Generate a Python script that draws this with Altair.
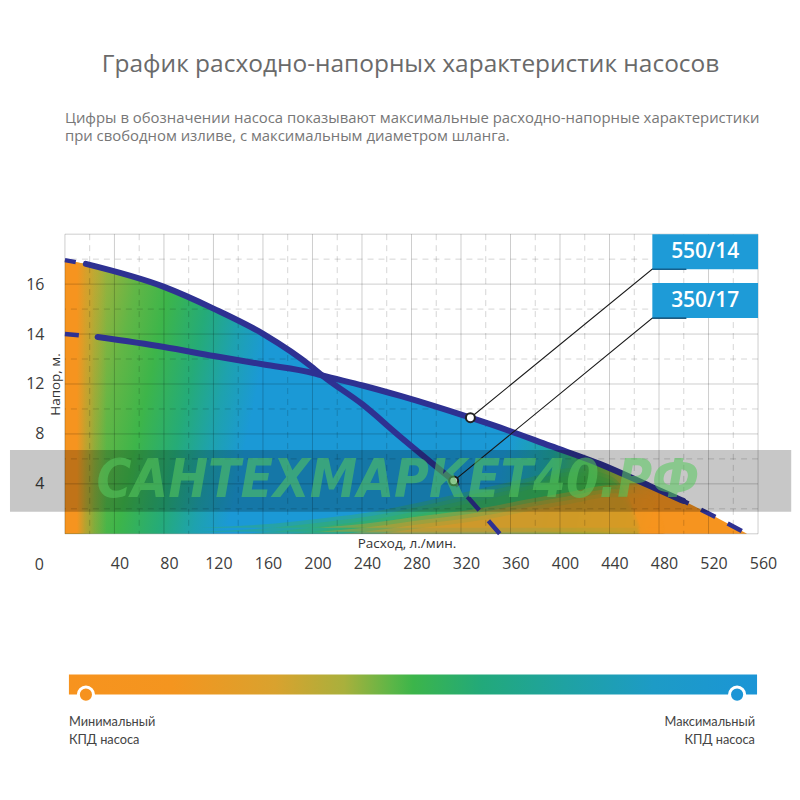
import altair as alt
import pandas as pd

# ------------------------------------------------------------------
# Data (flow in l/min, head in m)
# ------------------------------------------------------------------
pump_names = ["550/14", "350/17"]

flow_350 = [0, 16.9, 80.1, 120.5, 160.8, 200.4, 207.9, 240.2, 271.1, 314.1, 351.3]
head_350 = [16.96, 16.81, 15.89, 15.01, 13.99, 12.65, 12.34, 10.38, 7.76, 4.24, 0.0]

flow_550 = [0, 26.4, 80.1, 120.5, 160.8, 200.4, 207.9, 240.5, 271.1, 327.6, 351.8,
            392.2, 432.5, 472.8, 499.5, 525.3, 551.1]
head_550 = [14.0, 13.88, 13.48, 13.12, 12.78, 12.44, 12.34, 11.88, 11.04, 9.3, 8.5,
            7.04, 5.58, 3.82, 2.64, 1.36, 0.0]

# efficiency colour contours read from the fill (upper edge of band)
green_flow = [110, 170, 212, 250, 290, 330, 370, 410, 440, 455, 465]
green_head = [0, 0.35, 0.8, 1.3, 2.1, 3.0, 3.9, 4.8, 4.2, 2.5, 0]
orange_flow = [205, 240, 285, 338, 375, 410, 440, 470, 485]
orange_head = [0, 0.3, 0.9, 1.6, 2.3, 2.9, 3.4, 3.3, 0]

# axis ticks / grid
x_ticks = [40, 80, 120, 160, 200, 240, 280, 320, 360, 400, 440, 480, 520, 560]
x_major = [0] + x_ticks
x_minor = [20, 60, 100, 140, 180, 220, 260, 300, 340, 380, 420, 460, 500, 540]
y_ticks = [4, 8, 12, 14, 16]
y_major = [0, 4, 8, 12, 14, 16, 18]
y_minor = [2, 6, 10, 13, 15, 17]

title_text = "График расходно-напорных характеристик насосов"
subtitle_lines = ["Цифры в обозначении насоса показывают максимальные расходно-напорные характеристики",
                  "при свободном изливе, с максимальным диаметром шланга."]
legend_left = "Минимальный\nКПД насоса"
legend_right = "Максимальный\nКПД насоса"
watermark = "САНТЕХМАРКЕТ40.РФ"

# ------------------------------------------------------------------
# styles
# ------------------------------------------------------------------
NAVY = "#2E3192"
BLUE_BOX = "#1E9BD7"
FONT = "Open Sans"

X = alt.Scale(domain=[0, 560], nice=False)
Y = alt.Scale(domain=y_major, range=[300, 250, 200, 150, 100, 50, 0], nice=False, zero=False)

X_AXIS = alt.Axis(values=x_ticks, title="Расход, л./мин.", tickOffset=5, labelPadding=22,
                  ticks=False, domain=False, grid=False, labelFlush=False, labelOverlap=False,
                  titleY=10, titleBaseline="middle", titleX=342, titleAlign="center")
Y_AXIS = alt.Axis(values=y_ticks, title="Напор, м.", labelPadding=21, ticks=False,
                  domain=False, grid=False, labelFlush=False, labelOverlap=False,
                  titleAngle=270, titleX=-2, titleY=150, titleBaseline="bottom",
                  titleAlign="center")


def xq(f):
    return alt.X(f"{f}:Q", scale=X, axis=X_AXIS)


def yq(f):
    return alt.Y(f"{f}:Q", scale=Y, axis=Y_AXIS)


def grad(stops, x1=0, y1=0, x2=1, y2=0):
    return alt.Gradient(gradient="linear",
                        stops=[alt.GradientStop(color=c, offset=o) for o, c in stops],
                        x1=x1, y1=y1, x2=x2, y2=y2)


# ------------------------------------------------------------------
# tables
# ------------------------------------------------------------------
def pieces(name, flows, heads, s0, s1):
    rows = []
    for i, (f, h) in enumerate(zip(flows, heads)):
        if i <= s0:
            rows.append((name, "left", f, h, i))
        if s0 <= i <= s1:
            rows.append((name, "solid", f, h, i))
        if i >= s1:
            rows.append((name, "tail", f, h, i))
    return rows


curve_rows = pieces("350/17", flow_350, head_350, 1, 9) + pieces("550/14", flow_550, head_550, 1, 14)
curves = pd.DataFrame(curve_rows, columns=["pump", "part", "flow", "head", "i"])

cross = 6
env = pd.DataFrame({
    "flow": flow_350[:cross + 1] + flow_550[cross + 1:],
    "head": head_350[:cross + 1] + head_550[cross + 1:],
})
left_strip = pd.DataFrame({"flow": flow_350[:3], "head": head_350[:3]})
green_df = pd.DataFrame({"flow": green_flow, "head": green_head})
orange_df = pd.DataFrame({"flow": orange_flow, "head": orange_head})

marker_flow = [flow_550[9], flow_350[9]]
marker_head = [head_550[9], head_350[9]]
markers = pd.DataFrame({"pump": pump_names, "flow": marker_flow, "head": marker_head})

# label boxes (annotation layout, in chart units)
box_x0, box_x1, under_x = 474.6, 560, 502
box_bottom = [16.6, 14.64]
box_top = [18.0, 16.04]
boxes = pd.DataFrame({
    "pump": pump_names,
    "x0": [box_x0] * 2, "x1": [box_x1] * 2,
    "y0": box_bottom, "y1": box_top,
    "xc": [(box_x0 + box_x1) / 2] * 2,
    "yc": [(a + b) / 2 for a, b in zip(box_bottom, box_top)],
})
lead_rows = []
for k, p in enumerate(pump_names):
    lead_rows += [(p, 0, under_x, box_bottom[k]), (p, 1, box_x0, box_bottom[k]),
                  (p, 2, marker_flow[k], marker_head[k])]
leaders = pd.DataFrame(lead_rows, columns=["pump", "o", "flow", "head"])

# ------------------------------------------------------------------
# layers
# ------------------------------------------------------------------
env_stops = [(0.00, "#C8A834"), (0.05, "#A6B13B"), (0.11, "#62B646"), (0.16, "#3DB54A"),
             (0.22, "#25AB78"), (0.27, "#1EA2AE"), (0.32, "#1B99D6"), (0.70, "#1B99D6"),
             (0.77, "#1FA6A0"), (0.83, "#4BB54B"), (0.87, "#93AD3E"), (0.905, "#D69B2C"),
             (0.935, "#F6941F"), (1.00, "#F6941F")]

envelope = alt.Chart(env).mark_area(
    color=grad(env_stops, 0, 0, 1, 0.085), interpolate="monotone"
).encode(x=xq("flow"), y=yq("head"))

strip = alt.Chart(left_strip).mark_area(
    color=grad([(0, "rgba(246,148,31,1)"), (0.12, "rgba(246,148,31,1)"),
                (0.20, "rgba(246,148,31,0.6)"), (0.30, "rgba(246,148,31,0.25)"),
                (0.42, "rgba(246,148,31,0)"), (1, "rgba(246,148,31,0)")]),
    interpolate="monotone"
).encode(x=xq("flow"), y=yq("head"))

bands = []
for df, col in [(green_df, "#3DB54A"), (orange_df, "#F6941F")]:
    for off in [-6, -2, 2, 6]:
        bands.append(alt.Chart(df).mark_area(color=col, opacity=0.33, yOffset=off,
                                             interpolate="monotone", clip=True)
                     .encode(x=xq("flow"), y=yq("head")))

grid = [
    alt.Chart(pd.DataFrame({"v": x_major})).mark_rule(color="black", opacity=0.2, strokeWidth=1)
    .encode(x=xq("v")),
    alt.Chart(pd.DataFrame({"v": x_minor})).mark_rule(color="black", opacity=0.17, strokeWidth=1,
                                                       strokeDash=[6, 5]).encode(x=xq("v")),
    alt.Chart(pd.DataFrame({"v": y_major})).mark_rule(color="black", opacity=0.2, strokeWidth=1)
    .encode(y=yq("v")),
    alt.Chart(pd.DataFrame({"v": y_minor})).mark_rule(color="black", opacity=0.17, strokeWidth=1,
                                                       strokeDash=[6, 5]).encode(y=yq("v")),
]

cbase = alt.Chart(curves)
solid = cbase.transform_filter(alt.datum.part == "solid").mark_line(
    color=NAVY, strokeWidth=6, interpolate="monotone", strokeCap="round"
).encode(x=xq("flow"), y=yq("head"), detail="pump:N", order="i:Q")


def dashed(pump, part, dash, offset, width):
    return cbase.transform_filter(
        (alt.datum.part == part) & (alt.datum.pump == pump)
    ).mark_line(color=NAVY, strokeWidth=width, strokeDash=dash, strokeDashOffset=offset,
                interpolate="monotone").encode(x=xq("flow"), y=yq("head"), order="i:Q")


dash_layers = [
    dashed("350/17", "left", [11, 60], 0, 4.5),
    dashed("550/14", "left", [14, 60], 0, 4.5),
    dashed("350/17", "tail", [18, 14], 11, 4.5),
    dashed("550/14", "tail", [16, 14], 10, 4.5),
]

leader = alt.Chart(leaders).mark_line(color="#1a1a1a", strokeWidth=1.1).encode(
    x=xq("flow"), y=yq("head"), detail="pump:N", order="o:Q")

dots = alt.Chart(markers).mark_point(shape="circle", filled=True, fill="white", stroke="#222",
                                     strokeWidth=2, size=80, opacity=1).encode(
    x=xq("flow"), y=yq("head"))

box_rect = alt.Chart(boxes).mark_rect(color=BLUE_BOX).encode(
    x=xq("x0"), x2="x1:Q", y=yq("y0"), y2="y1:Q")
box_under = alt.Chart(leaders).transform_filter(alt.datum.o <= 1).mark_line(
    color="#155f8c", strokeWidth=1.5).encode(x=xq("flow"), y=yq("head"), detail="pump:N")
box_text = alt.Chart(boxes).mark_text(color="white", font=FONT, fontSize=21, fontWeight=600,
                                      align="center", baseline="middle").encode(
    x=xq("xc"), y=yq("yc"), text="pump:N")

zero_lbl = alt.Chart(pd.DataFrame({"f": [0], "h": [0], "t": ["0"]})).mark_text(
    dx=-21, dy=31, align="right", baseline="middle", font=FONT, fontSize=16, color="#3c3c3c"
).encode(x=xq("f"), y=yq("h"), text="t:N")

# watermark band across the chart
wm = pd.DataFrame({"x0": [-44.4], "x1": [586.8], "y0": [1.76], "y1": [6.72],
                   "xc": [269.0], "yc": [4.24], "t": [watermark]})
wm_rect = alt.Chart(wm).mark_rect(color="black", opacity=0.22, clip=False).encode(
    x=xq("x0"), x2="x1:Q", y=yq("y0"), y2="y1:Q")
wm_text = alt.Chart(wm).mark_text(
    font="Liberation Sans Narrow, DejaVu Sans Condensed, sans-serif", fontSize=53,
    fontWeight="bold", fontStyle="italic", color="#58C95E", opacity=0.55,
    align="center", baseline="middle"
).encode(x=xq("xc"), y=yq("yc"), text="t:N")

main = alt.layer(
    envelope, strip, *bands, *grid, solid, *dash_layers, leader, dots,
    box_rect, box_under, box_text, zero_lbl, wm_rect, wm_text
).properties(
    width=694, height=300,
    title=alt.TitleParams(subtitle_lines, anchor="start", frame="group", font=FONT,
                          fontSize=14.9, fontWeight="normal", color="#777777",
                          lineHeight=18, offset=90),
)

# ------------------------------------------------------------------
# efficiency colour bar
# ------------------------------------------------------------------
bar_stops = [(0.0, "#F7931E"), (0.15, "#F4951F"), (0.30, "#D9A22E"), (0.40, "#A9B03C"),
             (0.47, "#5BB647"), (0.50, "#3CB54A"), (0.60, "#22A97A"), (0.72, "#1FA2A2"),
             (0.85, "#1D9BC6"), (1.0, "#1B95D6")]
BX = alt.Scale(domain=[0, 1], range=[4, 693])
BY = alt.Scale(domain=[0, 1])
bar_df = pd.DataFrame({"lo": [0.0], "hi": [1.0], "b": [0.0], "t": [1.0]})
bar_rect = alt.Chart(bar_df).mark_rect(color=grad(bar_stops)).encode(
    x=alt.X("lo:Q", scale=BX, axis=None), x2="hi:Q",
    y=alt.Y("b:Q", scale=BY, axis=alt.Axis(labels=False, ticks=False, domain=False, grid=False,
                                           title=None, minExtent=55, maxExtent=55)),
    y2="t:Q")
ends = pd.DataFrame({"p": [0.0247, 0.971], "b": [0.0, 0.0], "c": ["#F6921E", "#1B95D6"]})
bar_dots = alt.Chart(ends).mark_point(shape="circle", filled=True, stroke="white", strokeWidth=3,
                                      size=230, opacity=1).encode(
    x=alt.X("p:Q", scale=BX, axis=None), y=alt.Y("b:Q", scale=BY, axis=None),
    fill=alt.Fill("c:N", scale=None))
lab_l = alt.Chart(pd.DataFrame({"p": [0.0], "b": [0.0], "t": [legend_left]})).mark_text(
    align="left", baseline="top", dy=21, lineBreak="\n", lineHeight=18, font="Lato",
    fontSize=12.8, color="#444444").encode(
    x=alt.X("p:Q", scale=BX, axis=None), y=alt.Y("b:Q", scale=BY, axis=None), text="t:N")
lab_r = alt.Chart(pd.DataFrame({"p": [0.997], "b": [0.0], "t": [legend_right]})).mark_text(
    align="right", baseline="top", dy=21, lineBreak="\n", lineHeight=18, font="Lato",
    fontSize=12.8, color="#444444").encode(
    x=alt.X("p:Q", scale=BX, axis=None), y=alt.Y("b:Q", scale=BY, axis=None), text="t:N")

bar = alt.layer(bar_rect, bar_dots, lab_l, lab_r).properties(width=694, height=20)

chart = alt.vconcat(
    main, bar, spacing=100,
    title=alt.TitleParams(title_text, anchor="middle", font=FONT, fontSize=24.5,
                          fontWeight="normal", color="#6a6a6a", offset=33, dx=10),
).properties(
    padding={"left": 1, "top": 43, "right": 0, "bottom": 5},
    background="white",
).configure_view(stroke="transparent").configure_axis(
    labelFont=FONT, labelFontSize=16, labelColor="#3c3c3c", labelFontWeight="normal",
    titleFont=FONT, titleFontSize=13.5, titleColor="#333333", titleFontWeight="normal",
)

chart.save("out.html", embed_options={"renderer": "svg", "actions": False})
